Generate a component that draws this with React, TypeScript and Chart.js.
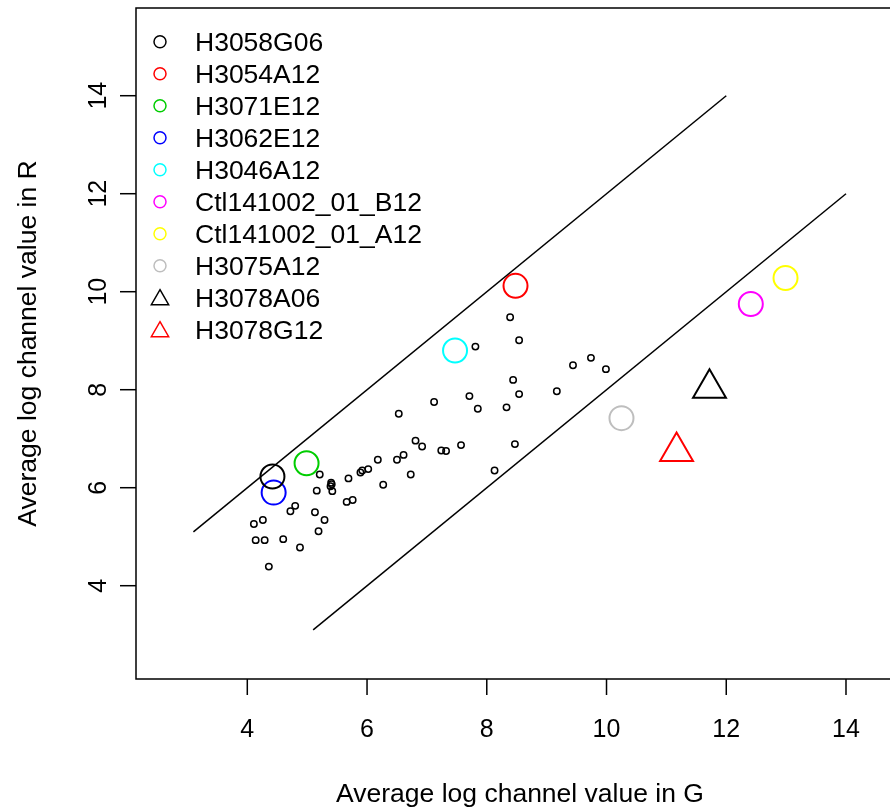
import React, { useEffect, useRef } from "react";
import { Chart, registerables } from "chart.js";

Chart.register(...registerables);

// Highlighted samples (legend entries)
const seriesLabels = [
  "H3058G06",
  "H3054A12",
  "H3071E12",
  "H3062E12",
  "H3046A12",
  "Ctl141002_01_B12",
  "Ctl141002_01_A12",
  "H3075A12",
  "H3078A06",
  "H3078G12",
];
const seriesColors = [
  "#000000",
  "#FF0000",
  "#00CD00",
  "#0000FF",
  "#00FFFF",
  "#FF00FF",
  "#FFFF00",
  "#BEBEBE",
  "#000000",
  "#FF0000",
];
const seriesShapes = [
  "circle",
  "circle",
  "circle",
  "circle",
  "circle",
  "circle",
  "circle",
  "circle",
  "triangle",
  "triangle",
];
const seriesX = [4.42, 8.48, 4.99, 4.44, 7.47, 12.41, 12.99, 10.25, 11.72, 11.17];
const seriesY = [6.23, 10.12, 6.5, 5.9, 8.8, 9.75, 10.28, 7.42, 8.03, 6.74];

// Other samples (small circles)
const otherX = [
  7.81, 7.71, 7.85, 7.12, 6.53, 6.81, 6.92, 7.24, 7.32, 7.57, 6.61, 6.5, 6.18, 6.02,
  5.92, 5.89, 6.73, 6.27, 5.69, 5.4, 5.41, 5.39, 5.42, 5.21, 5.16, 5.66, 5.76, 4.8,
  4.72, 5.13, 5.29, 5.19, 4.26, 4.11, 4.14, 4.29, 4.6, 4.88, 4.36, 8.39, 8.54, 9.44,
  9.74, 9.99, 8.44, 8.54, 8.33, 9.17, 8.47, 8.13,
];
const otherY = [
  8.88, 7.87, 7.61, 7.75, 7.51, 6.96, 6.84, 6.76, 6.75, 6.87, 6.67, 6.57, 6.57, 6.38,
  6.35, 6.31, 6.27, 6.06, 6.19, 6.1, 6.07, 6.03, 5.93, 6.27, 5.94, 5.71, 5.75, 5.63,
  5.52, 5.5, 5.34, 5.11, 5.34, 5.26, 4.93, 4.93, 4.95, 4.78, 4.39, 9.48, 9.01, 8.5,
  8.65, 8.42, 8.2, 7.91, 7.64, 7.97, 6.89, 6.35,
];

// Reference lines (y = x + 2 and y = x - 2)
const upperLineX = [3.1, 12];
const upperLineY = [5.1, 14];
const lowerLineX = [5.1, 14];
const lowerLineY = [3.1, 12];

const xTicks = [4, 6, 8, 10, 12, 14];
const yTicks = [4, 6, 8, 10, 12, 14];
const xTitle = "Average log channel value in G";
const yTitle = "Average log channel value in R";

const FONT = "'Liberation Sans', Arial, Helvetica, sans-serif";

function drawMarker(
  ctx: CanvasRenderingContext2D,
  shape: string,
  x: number,
  y: number,
  r: number
) {
  ctx.beginPath();
  if (shape === "triangle") {
    let rad = 0;
    ctx.moveTo(x + Math.sin(rad) * r, y - Math.cos(rad) * r);
    rad += (2 * Math.PI) / 3;
    ctx.lineTo(x + Math.sin(rad) * r, y - Math.cos(rad) * r);
    rad += (2 * Math.PI) / 3;
    ctx.lineTo(x + Math.sin(rad) * r, y - Math.cos(rad) * r);
    ctx.closePath();
  } else {
    ctx.arc(x, y, r, 0, Math.PI * 2);
  }
  ctx.stroke();
}

const rAxesPlugin = {
  id: "rAxes",
  afterDraw(chart: any) {
    const ctx: CanvasRenderingContext2D = chart.ctx;
    const area = chart.chartArea;
    const xs = chart.scales.x;
    const ys = chart.scales.y;
    ctx.save();
    ctx.strokeStyle = "#000";
    ctx.fillStyle = "#000";
    ctx.lineWidth = 1.5;
    // box (right side falls outside the canvas)
    ctx.beginPath();
    ctx.moveTo(area.right + 2, area.top);
    ctx.lineTo(area.left, area.top);
    ctx.lineTo(area.left, area.bottom);
    ctx.lineTo(area.right + 2, area.bottom);
    ctx.stroke();

    const tickLen = 16;
    // x ticks
    ctx.font = `25px ${FONT}`;
    ctx.textAlign = "center";
    ctx.textBaseline = "alphabetic";
    xTicks.forEach((v) => {
      const px = xs.getPixelForValue(v);
      ctx.beginPath();
      ctx.moveTo(px, area.bottom);
      ctx.lineTo(px, area.bottom + tickLen);
      ctx.stroke();
      ctx.fillText(String(v), px, area.bottom + 58);
    });
    // y ticks
    yTicks.forEach((v) => {
      const py = ys.getPixelForValue(v);
      ctx.beginPath();
      ctx.moveTo(area.left, py);
      ctx.lineTo(area.left - tickLen, py);
      ctx.stroke();
      ctx.save();
      ctx.translate(area.left - 30, py);
      ctx.rotate(-Math.PI / 2);
      ctx.fillText(String(v), 0, 0);
      ctx.restore();
    });
    // titles
    ctx.font = `26.5px ${FONT}`;
    ctx.fillText(xTitle, 520, area.bottom + 123);
    ctx.save();
    ctx.translate(36, (area.top + area.bottom) / 2);
    ctx.rotate(-Math.PI / 2);
    ctx.fillText(yTitle, 0, 0);
    ctx.restore();

    // legend
    ctx.textAlign = "left";
    ctx.lineWidth = 1.5;
    seriesLabels.forEach((label, i) => {
      const rowY = 41.7 + 32 * i;
      ctx.strokeStyle = seriesColors[i];
      const shape = seriesShapes[i];
      drawMarker(ctx, shape, 160, shape === "triangle" ? rowY + 2 : rowY, shape === "triangle" ? 10 : 6);
      ctx.fillStyle = "#000";
      ctx.fillText(label, 195, rowY + 9.5);
    });
    ctx.restore();
  },
};

export default function App() {
  const canvasRef = useRef<HTMLCanvasElement | null>(null);

  useEffect(() => {
    if (!canvasRef.current) return;
    const highlighted = seriesLabels.map((label, i) => ({
      type: "scatter" as const,
      label,
      data: [{ x: seriesX[i], y: seriesY[i] }],
      pointStyle: seriesShapes[i],
      pointRadius: seriesShapes[i] === "triangle" ? 19 : 12,
      pointBorderWidth: 2,
      pointBorderColor: seriesColors[i],
      pointBackgroundColor: "rgba(0,0,0,0)",
      showLine: false,
    }));
    const chart = new Chart(canvasRef.current, {
      type: "scatter",
      data: {
        datasets: [
          {
            type: "line" as const,
            label: "upper",
            data: upperLineX.map((x, i) => ({ x, y: upperLineY[i] })),
            borderColor: "#000",
            borderWidth: 1.5,
            pointRadius: 0,
            fill: false,
          },
          {
            type: "line" as const,
            label: "lower",
            data: lowerLineX.map((x, i) => ({ x, y: lowerLineY[i] })),
            borderColor: "#000",
            borderWidth: 1.5,
            pointRadius: 0,
            fill: false,
          },
          {
            type: "scatter" as const,
            label: "others",
            data: otherX.map((x, i) => ({ x, y: otherY[i] })),
            pointStyle: "circle",
            pointRadius: 3.2,
            pointBorderWidth: 1.5,
            pointBorderColor: "#000",
            pointBackgroundColor: "rgba(0,0,0,0)",
          },
          ...highlighted,
        ] as any,
      },
      options: {
        animation: false,
        responsive: false,
        devicePixelRatio: 1,
        events: [],
        layout: { autoPadding: false, padding: { left: 136, top: 8, right: 0, bottom: 130 } },
        plugins: { legend: { display: false }, tooltip: { enabled: false } },
        scales: {
          x: { type: "linear", display: false, min: 2.141, max: 14.735 },
          y: { type: "linear", display: false, min: 2.096, max: 15.79 },
        },
      },
      plugins: [rAxesPlugin],
    });
    return () => chart.destroy();
  }, []);

  return (
    <div style={{ position: "absolute", left: 0, top: 0, width: 890, height: 809, background: "#fff" }}>
      <canvas ref={canvasRef} width={890} height={809} style={{ display: "block" }} />
    </div>
  );
}
